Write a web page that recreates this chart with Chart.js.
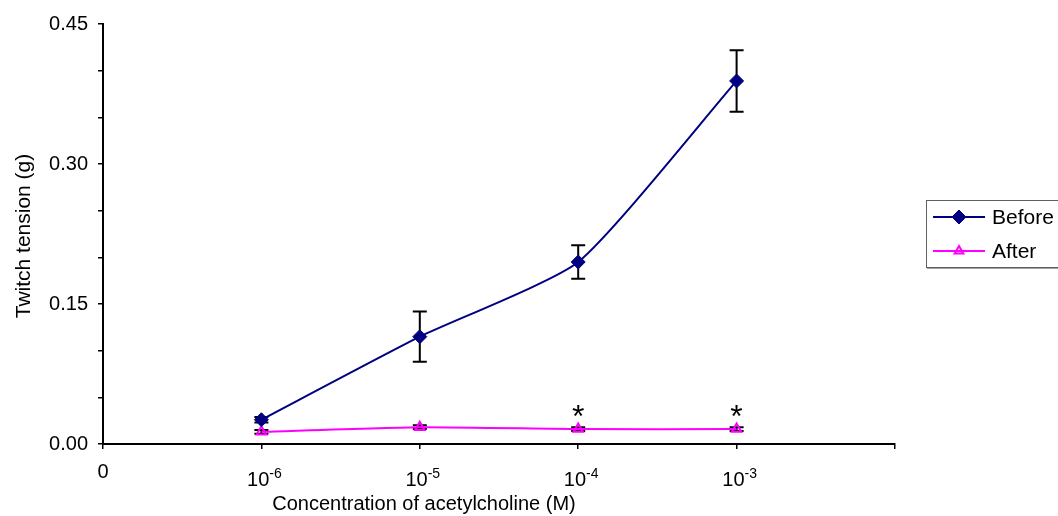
<!DOCTYPE html>
<html>
<head>
<meta charset="utf-8">
<script src="https://cdn.jsdelivr.net/npm/chart.js@4.4.1/dist/chart.umd.min.js"></script>
<style>
  html, body { margin: 0; padding: 0; background: #fff; }
</style>
</head>
<body>
<canvas id="twitchChart" width="1058" height="516"></canvas>
<script>
// values
var concPositions = [1, 2, 3, 4];
var concExponents = [-6, -5, -4, -3];
var beforeMean = [0.026, 0.115, 0.195, 0.389];
var beforeSem = [0.003, 0.027, 0.018, 0.033];
var afterMean = [0.013, 0.018, 0.016, 0.016];
var afterSem = [0.002, 0.002, 0.002, 0.002];
var afterMarks = ['', '', '*', '*'];
var seriesNames = ['Before', 'After'];
var yTickLabels = [0, 0.15, 0.30, 0.45];

var FONT = "'Liberation Sans', Arial, sans-serif";
var NAVY = '#000080';
var MAGENTA = '#FF00FF';

function toPoints(vals) {
  return vals.map(function(v, i) { return { x: concPositions[i], y: v }; });
}

// error bars go under the markers
var errorBars = {
  id: 'errorBars',
  beforeDatasetsDraw: function(chart) {
    var ctx = chart.ctx, xs = chart.scales.x, ys = chart.scales.y;
    var sets = [[beforeMean, beforeSem], [afterMean, afterSem]];
    ctx.save();
    ctx.strokeStyle = '#000';
    ctx.lineWidth = 2;
    sets.forEach(function(s) {
      for (var i = 0; i < concPositions.length; i++) {
        var px = xs.getPixelForValue(concPositions[i]);
        var top = ys.getPixelForValue(s[0][i] + s[1][i]);
        var bot = ys.getPixelForValue(s[0][i] - s[1][i]);
        ctx.beginPath();
        ctx.moveTo(px, top); ctx.lineTo(px, bot);
        ctx.moveTo(px - 7, top); ctx.lineTo(px + 7, top);
        ctx.moveTo(px - 7, bot); ctx.lineTo(px + 7, bot);
        ctx.stroke();
      }
    });
    ctx.restore();
  }
};

// x tick labels with superscripts, axis titles, asterisks, legend
var decorations = {
  id: 'decorations',
  afterDraw: function(chart) {
    var ctx = chart.ctx, xs = chart.scales.x, ys = chart.scales.y;
    ctx.save();
    ctx.fillStyle = '#000';
    ctx.textBaseline = 'alphabetic';

    // "0" at the origin
    ctx.font = '20px ' + FONT;
    ctx.textAlign = 'center';
    ctx.fillText('0', xs.getPixelForValue(0), 478);

    // 10^n labels
    concExponents.forEach(function(e, i) {
      var px = xs.getPixelForValue(concPositions[i]);
      ctx.font = '20px ' + FONT;
      var wBase = ctx.measureText('10').width;
      ctx.font = '14px ' + FONT;
      var wSup = ctx.measureText('-' + Math.abs(e)).width;
      var left = px + 3 - (wBase + wSup) / 2;
      ctx.textAlign = 'left';
      ctx.font = '20px ' + FONT;
      ctx.fillText('10', left, 486);
      ctx.font = '14px ' + FONT;
      ctx.fillText('-' + Math.abs(e), left + wBase, 478);
    });

    // axis titles
    ctx.font = '20px ' + FONT;
    ctx.textAlign = 'center';
    ctx.fillText('Concentration of acetylcholine (M)', 424, 510);

    ctx.save();
    ctx.translate(30, (chart.chartArea.top + chart.chartArea.bottom) / 2 + 2);
    ctx.rotate(-Math.PI / 2);
    ctx.font = '21px ' + FONT;
    ctx.fillText('Twitch tension (g)', 0, 0);
    ctx.restore();

    // significance marks above the After series
    ctx.font = '32px ' + FONT;
    ctx.textAlign = 'center';
    afterMarks.forEach(function(m, i) {
      if (!m) return;
      var px = xs.getPixelForValue(concPositions[i]);
      var py = ys.getPixelForValue(afterMean[i]);
      ctx.fillText(m, px, py - 2);
    });

    // legend box
    ctx.strokeStyle = '#606060';
    ctx.lineWidth = 1;
    ctx.strokeRect(926.5, 200.5, 140, 67);
    ctx.strokeStyle = '#a0a0a0';
    ctx.beginPath();
    ctx.moveTo(927, 268.5); ctx.lineTo(1058, 268.5);
    ctx.stroke();

    var rows = [
      { y: 217, color: NAVY, style: 'rectRot', radius: 7, fill: NAVY, bw: 1 },
      { y: 251, color: MAGENTA, style: 'triangle', radius: 5, fill: 'rgba(0,0,0,0)', bw: 2 }
    ];
    rows.forEach(function(r, i) {
      ctx.strokeStyle = r.color;
      ctx.lineWidth = 2;
      ctx.beginPath();
      ctx.moveTo(933, r.y); ctx.lineTo(985, r.y);
      ctx.stroke();
      ctx.fillStyle = r.fill;
      ctx.lineWidth = r.bw;
      Chart.helpers.drawPoint(ctx, { pointStyle: r.style, radius: r.radius, rotation: 0, borderWidth: r.bw }, 959, r.y);
      ctx.fillStyle = '#000';
      ctx.font = '21px ' + FONT;
      ctx.textAlign = 'left';
      ctx.textBaseline = 'middle';
      ctx.fillText(seriesNames[i], 992, r.y + 1);
    });
    ctx.restore();
  }
};

new Chart(document.getElementById('twitchChart'), {
  type: 'line',
  data: {
    datasets: [{
      label: seriesNames[0],
      data: toPoints(beforeMean),
      borderColor: NAVY,
      backgroundColor: NAVY,
      borderWidth: 2,
      pointStyle: 'rectRot',
      pointRadius: 7,
      pointBorderWidth: 1,
      tension: 0.18
    }, {
      label: seriesNames[1],
      data: toPoints(afterMean),
      borderColor: MAGENTA,
      backgroundColor: 'rgba(0,0,0,0)',
      pointBackgroundColor: 'rgba(0,0,0,0)',
      borderWidth: 2,
      pointStyle: 'triangle',
      pointRadius: 5.5,
      pointBorderWidth: 2,
      tension: 0.18
    }]
  },
  options: {
    responsive: false,
    animation: false,
    layout: { padding: { left: 0, top: 24, right: 163, bottom: 0 } },
    plugins: {
      legend: { display: false },
      tooltip: { enabled: false }
    },
    scales: {
      x: {
        type: 'linear',
        min: 0,
        max: 5,
        afterFit: function(scale) { scale.height = 72; },
        border: { display: true, color: '#000', width: 2 },
        grid: { drawOnChartArea: false, drawTicks: true, tickLength: 5, color: '#000', lineWidth: 1.5 },
        ticks: {
          stepSize: 1,
          autoSkip: false,
          callback: function() { return ''; }
        }
      },
      y: {
        min: 0,
        max: 0.45,
        afterFit: function(scale) { scale.width = 103; },
        border: { display: true, color: '#000', width: 2 },
        grid: { drawOnChartArea: false, drawTicks: true, tickLength: 5, color: '#000', lineWidth: 1.5 },
        ticks: {
          stepSize: 0.05,
          autoSkip: false,
          padding: 10,
          color: '#000',
          font: { family: FONT, size: 20 },
          callback: function(v) {
            for (var i = 0; i < yTickLabels.length; i++) {
              if (Math.abs(v - yTickLabels[i]) < 1e-6) return yTickLabels[i].toFixed(2);
            }
            return '';
          }
        }
      }
    }
  },
  plugins: [errorBars, decorations]
});
</script>
</body>
</html>
